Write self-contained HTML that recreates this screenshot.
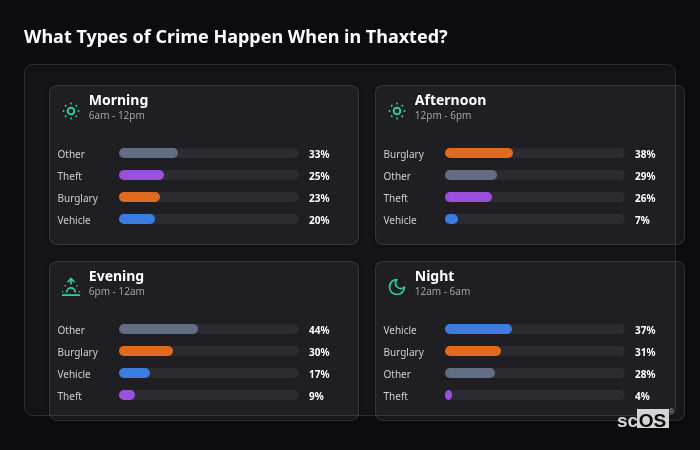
<!DOCTYPE html><html><head><meta charset="utf-8"><style>
*{margin:0;padding:0;box-sizing:border-box}
html,body{width:700px;height:450px;overflow:hidden;background:#0c0b10;font-family:"Noto Sans","Liberation Sans",sans-serif}
h1{position:absolute;left:24px;top:24px;font-size:18px;font-weight:700;color:#fff;line-height:24px;white-space:nowrap}
.outer{position:absolute;left:24px;top:64px;width:652px;height:352px;border:1px solid #2a2930;background:#141318;border-radius:8px}
.card{position:absolute;width:310px;height:160px;border:1px solid rgba(255,255,255,0.10);background:rgba(255,255,255,0.05);border-radius:8px;box-shadow:0 1px 3px rgba(0,0,0,.25)}
.ic{position:absolute;left:11px;top:15px;width:20px;height:20px;fill:none;color:#31cf97;stroke:currentColor;stroke-width:2;stroke-linecap:round;stroke-linejoin:round}
.t{position:absolute;left:38.8px;top:4px;font-size:14px;font-weight:700;color:#fff;line-height:20px;white-space:nowrap}
.s{position:absolute;left:38.8px;top:22px;font-size:10px;color:#a0a0a8;line-height:14px;white-space:nowrap}
.row{position:absolute;left:7.5px;height:10px;width:300px}
.lb{position:absolute;left:0;top:-1px;font-size:10px;color:#cccdd4;line-height:14px;white-space:nowrap}
.tr{position:absolute;left:61.5px;top:0;width:180px;height:10px;border-radius:5px;background:#2c2b31}
.fl{position:absolute;left:0;top:0;height:10px;border-radius:5px}
.pc{position:absolute;left:251.5px;top:-1px;font-size:10px;font-weight:700;color:#ffffff;line-height:14px;white-space:nowrap}
.lg{position:absolute;font-family:"Liberation Sans",sans-serif;font-weight:700;font-size:19px;line-height:19px;white-space:nowrap}
.lg1{left:617px;top:411.2px;color:#d4d4d4}
.lgb{position:absolute;left:637px;top:409px;width:32px;height:19px;background:#d4d4d4}
.lg2{left:638.7px;top:411.2px;color:#0a0a0a}
.lgr{position:absolute;left:668.8px;top:407.7px;font-family:"Liberation Sans",sans-serif;font-size:7.5px;line-height:7.5px;color:#a8acb8}
</style></head><body><h1>What Types of Crime Happen When in Thaxted?</h1><div class="outer"></div><div class="card" style="left:49px;top:85px"><svg class="ic" viewBox="0 0 24 24"><circle cx="12" cy="12" r="4" stroke-width="2.3"/><circle cx="12.00" cy="3.00" r="1.2" fill="currentColor" stroke="none"/><circle cx="21.00" cy="12.00" r="1.2" fill="currentColor" stroke="none"/><circle cx="12.00" cy="21.00" r="1.2" fill="currentColor" stroke="none"/><circle cx="3.00" cy="12.00" r="1.2" fill="currentColor" stroke="none"/><circle cx="18.36" cy="5.64" r="1.2" fill="currentColor" stroke="none"/><circle cx="18.36" cy="18.36" r="1.2" fill="currentColor" stroke="none"/><circle cx="5.64" cy="18.36" r="1.2" fill="currentColor" stroke="none"/><circle cx="5.64" cy="5.64" r="1.2" fill="currentColor" stroke="none"/></svg><div class="t">Morning</div><div class="s">6am - 12pm</div><div class="row" style="top:62px"><span class="lb">Other</span><span class="tr"><span class="fl" style="width:59.4px;background:#626d82"></span></span><span class="pc">33%</span></div><div class="row" style="top:84px"><span class="lb">Theft</span><span class="tr"><span class="fl" style="width:45.0px;background:#9a50dc"></span></span><span class="pc">25%</span></div><div class="row" style="top:106px"><span class="lb">Burglary</span><span class="tr"><span class="fl" style="width:41.4px;background:#e06b1e"></span></span><span class="pc">23%</span></div><div class="row" style="top:128px"><span class="lb">Vehicle</span><span class="tr"><span class="fl" style="width:36.0px;background:#3b7cde"></span></span><span class="pc">20%</span></div></div><div class="card" style="left:375px;top:85px"><svg class="ic" viewBox="0 0 24 24"><circle cx="12" cy="12" r="4" stroke-width="2.3"/><circle cx="12.00" cy="3.00" r="1.2" fill="currentColor" stroke="none"/><circle cx="21.00" cy="12.00" r="1.2" fill="currentColor" stroke="none"/><circle cx="12.00" cy="21.00" r="1.2" fill="currentColor" stroke="none"/><circle cx="3.00" cy="12.00" r="1.2" fill="currentColor" stroke="none"/><circle cx="18.36" cy="5.64" r="1.2" fill="currentColor" stroke="none"/><circle cx="18.36" cy="18.36" r="1.2" fill="currentColor" stroke="none"/><circle cx="5.64" cy="18.36" r="1.2" fill="currentColor" stroke="none"/><circle cx="5.64" cy="5.64" r="1.2" fill="currentColor" stroke="none"/></svg><div class="t">Afternoon</div><div class="s">12pm - 6pm</div><div class="row" style="top:62px"><span class="lb">Burglary</span><span class="tr"><span class="fl" style="width:68.4px;background:#e06b1e"></span></span><span class="pc">38%</span></div><div class="row" style="top:84px"><span class="lb">Other</span><span class="tr"><span class="fl" style="width:52.2px;background:#626d82"></span></span><span class="pc">29%</span></div><div class="row" style="top:106px"><span class="lb">Theft</span><span class="tr"><span class="fl" style="width:46.8px;background:#9a50dc"></span></span><span class="pc">26%</span></div><div class="row" style="top:128px"><span class="lb">Vehicle</span><span class="tr"><span class="fl" style="width:12.6px;background:#3b7cde"></span></span><span class="pc">7%</span></div></div><div class="card" style="left:49px;top:261px"><svg class="ic" viewBox="0 0 24 24"><path d="M12 2v6"/><path d="m8.5 5.5 3.5-3.5 3.5 3.5"/><path d="M17 18a5 5 0 0 0-10 0"/><path d="M2 21.8h20"/><path d="M5 10.6h.01M19 10.6h.01M2 17.7h.01M22 17.7h.01"/></svg><div class="t">Evening</div><div class="s">6pm - 12am</div><div class="row" style="top:62px"><span class="lb">Other</span><span class="tr"><span class="fl" style="width:79.2px;background:#626d82"></span></span><span class="pc">44%</span></div><div class="row" style="top:84px"><span class="lb">Burglary</span><span class="tr"><span class="fl" style="width:54.0px;background:#e06b1e"></span></span><span class="pc">30%</span></div><div class="row" style="top:106px"><span class="lb">Vehicle</span><span class="tr"><span class="fl" style="width:30.6px;background:#3b7cde"></span></span><span class="pc">17%</span></div><div class="row" style="top:128px"><span class="lb">Theft</span><span class="tr"><span class="fl" style="width:16.2px;background:#9a50dc"></span></span><span class="pc">9%</span></div></div><div class="card" style="left:375px;top:261px"><svg class="ic" viewBox="0 0 24 24"><path d="M12 3a6 6 0 0 0 9 9 9 9 0 1 1-9-9Z"/></svg><div class="t">Night</div><div class="s">12am - 6am</div><div class="row" style="top:62px"><span class="lb">Vehicle</span><span class="tr"><span class="fl" style="width:66.6px;background:#3b7cde"></span></span><span class="pc">37%</span></div><div class="row" style="top:84px"><span class="lb">Burglary</span><span class="tr"><span class="fl" style="width:55.8px;background:#e06b1e"></span></span><span class="pc">31%</span></div><div class="row" style="top:106px"><span class="lb">Other</span><span class="tr"><span class="fl" style="width:50.4px;background:#626d82"></span></span><span class="pc">28%</span></div><div class="row" style="top:128px"><span class="lb">Theft</span><span class="tr"><span class="fl" style="width:7.2px;background:#9a50dc;border-radius:50%"></span></span><span class="pc">4%</span></div></div><div class="lg lg1">sc</div><div class="lgb"></div><div class="lg lg2">OS</div><div class="lgr">®</div></body></html>
